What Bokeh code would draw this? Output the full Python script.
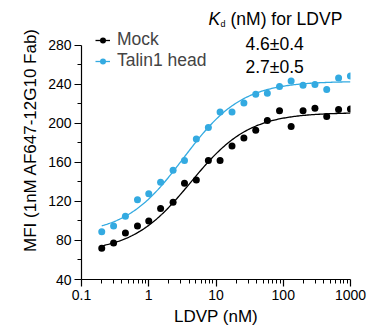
import numpy as np
from bokeh.plotting import figure
from bokeh.models import (FixedTicker, Legend, LegendItem, Label, Range1d)
from bokeh.embed import file_html
from bokeh.resources import INLINE

# ---- data ----
conc_nM = [0.2, 0.3, 0.45, 0.68, 1.0, 1.5, 2.3, 3.4, 5.1, 7.7, 11.5, 17.3,
           26, 39, 58, 88, 131, 197, 296, 443, 665, 998]
mock_mfi = [72, 77.5, 87.5, 94.7, 100, 112.6, 119, 138.7, 142, 161.8, 161.8, 176.8,
            184.9, 192.8, 202.8, 212.8, 196.6, 212.8, 215.5, 206.9, 214, 214.7]
talin_mfi = [89, 94.7, 104.8, 121.8, 127.8, 139.7, 151.9, 161.8, 183.8, 195.7, 211.5, 211.5,
             220.7, 229.8, 230.7, 237.8, 243.4, 239, 239.6, 234.7, 246.5, 248.5]

# fitted one-site binding curves (bottom, top, K)
mock_fit = (68, 211, 4.2)
talin_fit = (86, 243, 3.3)

series_names = ["Mock", "Talin1 head"]
kd_text = ["4.6\u00b10.4", "2.7\u00b10.5"]

x_ticks = [0.1, 1, 10, 100, 1000]
x_tick_labels = {0.1: "0.1", 1: "1", 10: "10", 100: "100", 1000: "1000"}
y_ticks = [40, 80, 120, 160, 200, 240, 280]
y_minor = [60, 100, 140, 180, 220, 260]

BLACK = "#000000"
BLUE = "#33aae1"
FONT = "Liberation Sans"

# frame spans the full canvas height above the x axis; y axis line bounded to 40..280
Y_TOP = 40 + 281 * 240 / 236
p = figure(width=368, height=328, x_axis_type="log",
           x_range=Range1d(0.1, 1000), y_range=Range1d(40, Y_TOP),
           output_backend="svg", toolbar_location=None,
           min_border_left=81, min_border_right=18, min_border_top=0,
           min_border_bottom=47)
p.outline_line_color = None
p.grid.visible = False
p.background_fill_color = "white"
p.border_fill_color = "white"

def hill(params, x):
    b, t, k = params
    x = np.asarray(x, dtype=float)
    return b + (t - b) * x / (k + x)

xc = np.geomspace(min(conc_nM), max(conc_nM), 200)
l_mock = p.line(xc, hill(mock_fit, xc), line_color=BLACK, line_width=1.3)
l_tal = p.line(xc, hill(talin_fit, xc), line_color=BLUE, line_width=1.3)
s_mock = p.scatter(conc_nM, mock_mfi, size=7, fill_color=BLACK, line_color=None)
s_tal = p.scatter(conc_nM, talin_mfi, size=7, fill_color=BLUE, line_color=None)

# axes
xa = p.xaxis[0]
xa.ticker = FixedTicker(ticks=x_ticks,
                        minor_ticks=[m * d for d in [0.1, 1, 10, 100] for m in range(2, 10)])
xa.major_label_overrides = {k: v for k, v in x_tick_labels.items()}
xa.axis_label = "LDVP (nM)"

ya = p.yaxis[0]
ya.ticker = FixedTicker(ticks=y_ticks, minor_ticks=y_minor)
ya.bounds = (40, 280)
ya.axis_label = "MFI (1nM AF647-12G10 Fab)"

for ax in (xa, ya):
    ax.axis_line_color = BLACK
    ax.axis_line_width = 1.2
    ax.major_tick_line_color = BLACK
    ax.major_tick_line_width = 1.2
    ax.minor_tick_line_color = BLACK
    ax.minor_tick_line_width = 1.0
    ax.major_tick_out = 7
    ax.major_tick_in = 0
    ax.minor_tick_out = 4
    ax.minor_tick_in = 0
    ax.major_label_text_font = FONT
    ax.major_label_text_font_size = "14px"
    ax.major_label_text_color = BLACK
    ax.axis_label_text_font = FONT
    ax.axis_label_text_font_size = "17px"
    ax.axis_label_text_font_style = "normal"
    ax.axis_label_text_color = BLACK
    ax.major_label_standoff = 3
xa.axis_label_standoff = 4
ya.axis_label_standoff = 5

legend = Legend(items=[LegendItem(label=series_names[0], renderers=[l_mock, s_mock]),
                       LegendItem(label=series_names[1], renderers=[l_tal, s_tal])],
                location=(14, 208), padding=0, margin=0, spacing=0,
                glyph_width=15, glyph_height=20, label_height=20,
                label_standoff=7, label_text_font=FONT, label_text_font_size="17.5px",
                border_line_color=None, background_fill_alpha=0)
p.add_layout(legend, "center")

# Kd header and values (screen units measured from the frame's bottom-left corner)
common = dict(x_units="screen", y_units="screen", text_font=FONT,
              text_baseline="alphabetic", text_color=BLACK)
p.add_layout(Label(x=127, y=261, text="K", text_font_style="italic",
                   text_font_size="17.5px", **common))
p.add_layout(Label(x=139, y=256, text="d", text_font_size="9px", **common))
p.add_layout(Label(x=149, y=261, text="(nM) for LDVP", text_font_size="17.5px", **common))
for i, t in enumerate(kd_text):
    p.add_layout(Label(x=164, y=235.5 - 22.5 * i, text=t, text_font_size="17.5px", **common))

open("out.html", "w").write(file_html(p, INLINE))
